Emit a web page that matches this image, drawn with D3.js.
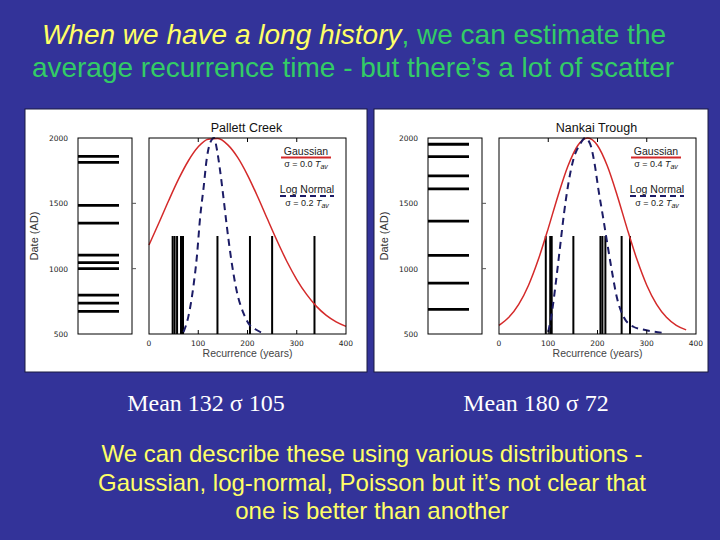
<!DOCTYPE html>
<html><head><meta charset="utf-8">
<script src="https://cdn.jsdelivr.net/npm/d3@7"></script>
<style>html,body{margin:0;padding:0;background:#333399;}svg{display:block;}</style>
</head><body>
<script>
// ---------- data ----------
const titleItalic = "When we have a long history";
const titleRest1 = ", we can estimate the";
const titleLine2 = "average recurrence time - but there\u2019s a lot of scatter";
const panelTitles = ["Pallett Creek", "Nankai Trough"];
const meanLabels = ["Mean 132 \u03c3 105", "Mean 180 \u03c3 72"];
const gaussSigmaLabels = ["0.0", "0.4"];
const logSigmaLabels = ["0.2", "0.2"];
const footerLines = ["We can describe these using various distributions -",
  "Gaussian, log-normal, Poisson but it\u2019s not clear that",
  "one is better than another"];
const dateTicks = [500, 1000, 1500, 2000];
const recTicks = [0, 100, 200, 300, 400];

// event dates (AD)
const palletDates = [1860, 1814, 1484, 1349, 1103, 1047, 1001, 798, 737, 673];
const nankaiDates = [1952, 1858, 1710, 1610, 1364, 1102, 889, 688];
// recurrence intervals (years)
const palletIntervals = [48, 52, 57, 65, 69, 139, 205, 250, 336];
const nankaiIntervals = [95, 104, 107, 151, 206, 210, 216, 249, 266];
const barLevel = 0.5;
// gaussian curves (relative probability)
const gaussX1 = [0,20,40,60,80,100,120,140,160,180,200,220,240,260,280,300,320,340,360,380,400];
const gaussY1 = [0.454,0.566,0.681,0.790,0.884,0.955,0.994,0.997,0.965,0.901,0.811,0.704,0.589,0.476,0.370,0.278,0.202,0.141,0.095,0.062,0.039];
const gaussX2 = [0,20,40,60,80,100,120,140,160,180,200,220,240,260,280,300,320,340,360,380];
const gaussY2 = [0.044,0.085,0.151,0.249,0.381,0.539,0.707,0.857,0.962,1.0,0.962,0.857,0.707,0.539,0.381,0.249,0.151,0.085,0.044,0.021];
// log-normal curves
const logX1 = [70,80,90,97,104,111,117,127,132,138,144,151,158,167,178,192,202,216,233];
const logY1 = [0.01,0.09,0.24,0.39,0.6,0.75,0.89,0.99,1.0,0.94,0.84,0.70,0.55,0.38,0.22,0.105,0.054,0.024,0.003];
const logX2 = [100,108,116,124,132,141,151,165,175,185,194,202,211,221,230,239,253,273,297,338];
const logY2 = [0.01,0.12,0.275,0.445,0.615,0.77,0.89,0.97,1.0,0.97,0.87,0.735,0.6,0.445,0.31,0.19,0.088,0.037,0.02,0.005];

const panels = [
  {title: panelTitles[0], dates: palletDates, bars: palletIntervals, gx: gaussX1, gy: gaussY1, lx: logX1, ly: logY1, gs: gaussSigmaLabels[0], ls: logSigmaLabels[0], mean: meanLabels[0]},
  {title: panelTitles[1], dates: nankaiDates, bars: nankaiIntervals, gx: gaussX2, gy: gaussY2, lx: logX2, ly: logY2, gs: gaussSigmaLabels[1], ls: logSigmaLabels[1], mean: meanLabels[1]}
];

// ---------- layout ----------
const W = 720, H = 540;
const svg = d3.select("body").append("svg").attr("width", W).attr("height", H);
svg.append("rect").attr("width", W).attr("height", H).attr("fill", "#333399");

const SANS = "Arial, 'Liberation Sans', sans-serif";
const t1 = svg.append("text").attr("x", 354).attr("y", 44).attr("text-anchor", "middle")
  .attr("font-family", SANS).attr("font-size", 28);
t1.append("tspan").attr("fill", "#ffff66").attr("font-style", "italic").text(titleItalic);
t1.append("tspan").attr("fill", "#33cc66").text(titleRest1);
svg.append("text").attr("x", 353).attr("y", 77).attr("text-anchor", "middle")
  .attr("font-family", SANS).attr("font-size", 28).attr("fill", "#33cc66").text(titleLine2);

const geo = [
  {px: 25, py: 109, pw: 342, ph: 263, bx0: 78, bx1: 132, lineEnd: 119, mx0: 149, mx1: 346, meanX: 206},
  {px: 374, py: 109, pw: 334, ph: 263, bx0: 428, bx1: 482, lineEnd: 469, mx0: 499, mx1: 696, meanX: 536}
];
const yTop = 138, yBot = 334;

panels.forEach((p, i) => {
  const g = geo[i];
  svg.append("rect").attr("x", g.px).attr("y", g.py).attr("width", g.pw).attr("height", g.ph)
    .attr("fill", "#ffffff").attr("stroke", "#1a1a40").attr("stroke-width", 1);

  const yDate = d3.scaleLinear().domain([500, 2000]).range([yBot, yTop]);
  const x = d3.scaleLinear().domain([0, 400]).range([g.mx0, g.mx1]);
  const yP = d3.scaleLinear().domain([0, 1]).range([yBot, yTop]);

  // left date box
  svg.append("rect").attr("x", g.bx0).attr("y", yTop).attr("width", g.bx1 - g.bx0).attr("height", yBot - yTop)
    .attr("fill", "none").attr("stroke", "#000").attr("stroke-width", 1);
  svg.append("g").selectAll("line").data(p.dates).join("line")
    .attr("x1", g.bx0).attr("x2", g.lineEnd)
    .attr("y1", d => yDate(d)).attr("y2", d => yDate(d))
    .attr("stroke", "#000").attr("stroke-width", 2.8);
  svg.append("g").selectAll("text").data(dateTicks).join("text")
    .attr("x", g.bx0 - 10).attr("y", d => yDate(d) + 3).attr("text-anchor", "end")
    .attr("font-family", "'DejaVu Sans', sans-serif").attr("font-size", 7.5).attr("fill", "#222")
    .text(d => d);
  svg.append("g").selectAll("line").data([1000, 1500]).join("line")
    .attr("x1", g.bx1).attr("x2", g.bx1 + 4)
    .attr("y1", d => yDate(d)).attr("y2", d => yDate(d)).attr("stroke", "#555").attr("stroke-width", 1);
  svg.append("text").attr("transform", `translate(${g.bx0 - 40},${(yTop + yBot) / 2}) rotate(-90)`)
    .attr("text-anchor", "middle").attr("font-family", SANS).attr("font-size", 11).attr("fill", "#333")
    .text("Date (AD)");

  // main plot
  const mg = svg.append("g");
  mg.append("g").selectAll("line").data(p.bars).join("line")
    .attr("x1", d => x(d)).attr("x2", d => x(d))
    .attr("y1", yP(0)).attr("y2", yP(barLevel))
    .attr("stroke", "#000").attr("stroke-width", 2);
  const lineG = d3.line().x((d, k) => x(d)).y((d, k) => yP(p.gy[k])).curve(d3.curveMonotoneX);
  mg.append("path").attr("d", lineG(p.gx)).attr("fill", "none").attr("stroke", "#d42a2a").attr("stroke-width", 1.5);
  const lineL = d3.line().x(d => x(d)).y((d, k) => yP(p.ly[k])).curve(d3.curveMonotoneX);
  mg.append("path").attr("d", lineL(p.lx)).attr("fill", "none").attr("stroke", "#1c1c66")
    .attr("stroke-width", 2).attr("stroke-dasharray", "7,5");

  mg.append("rect").attr("x", g.mx0).attr("y", yTop).attr("width", g.mx1 - g.mx0).attr("height", yBot - yTop)
    .attr("fill", "none").attr("stroke", "#000").attr("stroke-width", 1);
  mg.append("g").selectAll("line").data(recTicks.slice(1, 4)).join("line")
    .attr("x1", d => x(d)).attr("x2", d => x(d)).attr("y1", yBot).attr("y2", yBot - 4)
    .attr("stroke", "#000");
  mg.append("g").selectAll("line").data(recTicks.slice(1, 4)).join("line")
    .attr("x1", d => x(d)).attr("x2", d => x(d)).attr("y1", yTop).attr("y2", yTop + 4)
    .attr("stroke", "#000");
  mg.append("g").selectAll("text").data(recTicks).join("text")
    .attr("x", d => x(d)).attr("y", yBot + 12).attr("text-anchor", "middle")
    .attr("font-family", "'DejaVu Sans', sans-serif").attr("font-size", 7.5).attr("fill", "#222")
    .text(d => d);
  mg.append("text").attr("x", (g.mx0 + g.mx1) / 2).attr("y", yBot + 23).attr("text-anchor", "middle")
    .attr("font-family", SANS).attr("font-size", 10.5).attr("fill", "#444").text("Recurrence (years)");
  mg.append("text").attr("x", (g.mx0 + g.mx1) / 2 - 1).attr("y", yTop - 6).attr("text-anchor", "middle")
    .attr("font-family", SANS).attr("font-size", 12.5).attr("fill", "#111").text(p.title);

  // legend
  const lx = g.mx1 - 40;
  const lg = mg.append("g").attr("font-family", SANS).attr("fill", "#222");
  lg.append("text").attr("x", lx).attr("y", 155).attr("text-anchor", "middle").attr("font-size", 10.5).text("Gaussian");
  lg.append("line").attr("x1", lx - 25).attr("x2", lx + 25).attr("y1", 157.5).attr("y2", 157.5)
    .attr("stroke", "#d42a2a").attr("stroke-width", 1.8);
  const s1 = lg.append("text").attr("x", lx).attr("y", 167).attr("text-anchor", "middle").attr("font-size", 9);
  s1.append("tspan").text("\u03c3 = " + p.gs + " ");
  s1.append("tspan").attr("font-style", "italic").text("T");
  s1.append("tspan").attr("font-style", "italic").attr("font-size", 7).attr("dy", 2).text("av");
  lg.append("text").attr("x", lx + 1).attr("y", 193).attr("text-anchor", "middle").attr("font-size", 10.5).text("Log Normal");
  lg.append("line").attr("x1", lx - 26).attr("x2", lx + 28).attr("y1", 196).attr("y2", 196)
    .attr("stroke", "#1c1c66").attr("stroke-width", 1.8).attr("stroke-dasharray", "6,4");
  const s2 = lg.append("text").attr("x", lx + 1).attr("y", 206).attr("text-anchor", "middle").attr("font-size", 9);
  s2.append("tspan").text("\u03c3 = " + p.ls + " ");
  s2.append("tspan").attr("font-style", "italic").text("T");
  s2.append("tspan").attr("font-style", "italic").attr("font-size", 7).attr("dy", 2).text("av");

  // mean label
  svg.append("text").attr("x", g.meanX).attr("y", 411).attr("text-anchor", "middle")
    .attr("font-family", "'Liberation Serif', 'Times New Roman', serif").attr("font-size", 24)
    .attr("fill", "#ffffff").text(p.mean);
});

svg.append("g").selectAll("text").data(footerLines).join("text")
  .attr("x", 372).attr("y", (d, i) => 462 + i * 28.5).attr("text-anchor", "middle")
  .attr("font-family", SANS).attr("font-size", 24).attr("fill", "#ffff66").text(d => d);
</script>
</body></html>
